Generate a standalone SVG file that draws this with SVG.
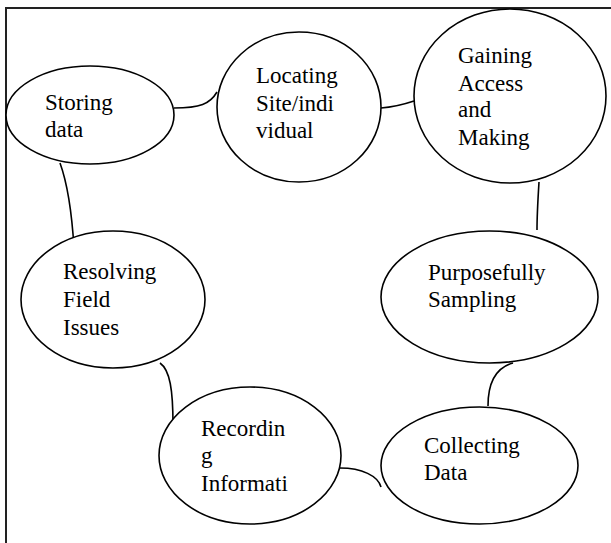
<svg xmlns="http://www.w3.org/2000/svg" width="611" height="543" viewBox="0 0 611 543">
<style>
.n{fill:#fff;stroke:#000;stroke-width:1.6}
.c{fill:none;stroke:#000;stroke-width:1.6}
</style>
<rect width="611" height="543" fill="#fff"/>
<path d="M6,543 L6,8 L611,8" fill="none" stroke="#222" stroke-width="2"/>
<g id="connectors">
<path class="c" d="M174,108 C200,108 210,104 217,92"/>
<path class="c" d="M381,108 C395,107 405,104 414,101"/>
<path class="c" d="M539,182 C538,198 537,214 537,230"/>
<path class="c" d="M513,363 C495,368 488,385 488,406"/>
<path class="c" d="M340,468 C362,468 378,476 381,487"/>
<path class="c" d="M160,363 C170,370 173,390 173,425"/>
<path class="c" d="M60,163 C68,185 72,215 74,248"/>
</g>
<g font-family="Liberation Serif, DejaVu Serif, serif" font-size="23" fill="#000">
<g id="storing">
<ellipse class="n" cx="90" cy="115" rx="84" ry="49"/>
<text x="45" y="110">Storing</text>
<text x="45" y="137">data</text>
</g>
<g id="locating">
<ellipse class="n" cx="299" cy="107" rx="82" ry="75"/>
<text x="256" y="83">Locating</text>
<text x="256" y="111">Site/indi</text>
<text x="256" y="138">vidual</text>
</g>
<g id="gaining">
<ellipse class="n" cx="510" cy="96" rx="96" ry="87"/>
<text x="458" y="63">Gaining</text>
<text x="458" y="91">Access</text>
<text x="458" y="117">and</text>
<text x="458" y="145">Making</text>
</g>
<g id="purposefully">
<ellipse class="n" cx="489.5" cy="297" rx="108.5" ry="66"/>
<text x="428" y="280">Purposefully</text>
<text x="428" y="307">Sampling</text>
</g>
<g id="collecting">
<ellipse class="n" cx="479.5" cy="465.5" rx="98.5" ry="58.5"/>
<text x="424" y="453">Collecting</text>
<text x="424" y="480">Data</text>
</g>
<g id="recording">
<ellipse class="n" cx="250" cy="455.5" rx="91" ry="68.5"/>
<text x="201" y="436">Recordin</text>
<text x="201" y="463">g</text>
<text x="201" y="491">Informati</text>
</g>
<g id="resolving">
<ellipse class="n" cx="113" cy="299.5" rx="92" ry="68.5"/>
<text x="63" y="279">Resolving</text>
<text x="63" y="307">Field</text>
<text x="63" y="335">Issues</text>
</g>
</g>
</svg>
